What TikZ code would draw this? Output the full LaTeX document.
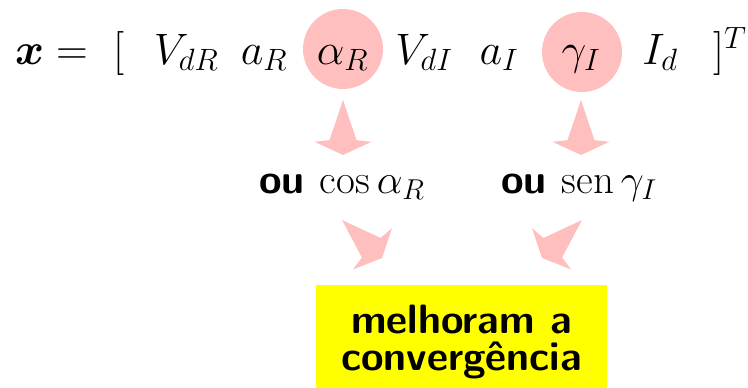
\RequirePackage{fix-cm}
\documentclass[tikz,border=0pt]{standalone}
\usepackage{amsmath,bm}
\usepackage{fontspec}
\usetikzlibrary{calc}
\definecolor{dartpink}{RGB}{255,191,191}
\definecolor{boxyellow}{RGB}{255,255,0}
\tikzset{
  toprow/.style={font=\fontsize{44}{50}\selectfont, inner sep=0pt, anchor=base},
  midrow/.style={font=\fontsize{41}{46}\selectfont, inner sep=0pt, anchor=base},
  hilite/.style={circle, fill=dartpink, minimum size=80pt, inner sep=0pt},
  dartshape/.style={fill=dartpink},
  resultbox/.style={fill=boxyellow, minimum width=291pt, minimum height=103pt, inner sep=0pt},
  resulttext/.style={inner sep=0pt, anchor=north, align=center,
    font=\fontsize{41}{37}\selectfont\sffamily\bfseries}
}
\newcommand{\dartarrow}[2]{%
  \fill[dartshape] (#1) -- ($(#1)!0.73!(#2)!13.5pt!90:(#2)$) -- ($(#1)!0.76!(#2)!28.5pt!90:(#2)$)
   -- (#2) -- ($(#1)!0.76!(#2)!28.5pt!-90:(#2)$) -- ($(#1)!0.73!(#2)!13.5pt!-90:(#2)$) -- cycle;}
\begin{document}
\begin{tikzpicture}[x=1pt,y=-1pt]
\useasboundingbox (0,0) rectangle (748,388);
% highlight circles
\node[hilite] (c1) at (343,49) {};
\node[hilite] (c2) at (582,52) {};
% top row
\node[toprow] (vx) at (29.5,64) {$\bm{x}$};
\node[toprow] (eq) at (72,64) {$=$};
\node[toprow] (lb) at (118.5,64) {$[$};
\node[toprow] (vdr) at (186,64) {$V_{dR}$};
\node[toprow] (ar) at (264,64) {$a_R$};
\node[toprow] (alr) at (342.5,64) {$\alpha_R$};
\node[toprow] (vdi) at (424,64) {$V_{dI}$};
\node[toprow] (ai) at (499,64) {$a_I$};
\node[toprow] (gi) at (581,64) {$\gamma_I$};
\node[toprow] (id) at (660,64) {$I_d$};
\node[toprow, anchor=base west] (rb) at (713,64) {$]^{T}$};
% middle row
\node[midrow] (o1) at (342,193) {\textsf{\bfseries ou}\hspace{15pt}$\cos\alpha_R$};
\node[midrow] (o2) at (579,193) {\textsf{\bfseries ou}\hspace{15pt}$\operatorname{sen}\gamma_I$};
% result box
\node[resultbox] (res) at (461.5,336.5) {};
\node[resulttext] (restext) at (461.5,304.5) {melhoram a\\convergência};
% darts
\coordinate (t1) at (343,100); \coordinate (h1) at (343,155);
\coordinate (t2) at (581,100); \coordinate (h2) at (581,155);
\coordinate (t3) at (342,220); \coordinate (h3) at (382,258);
\coordinate (t4) at (582,220); \coordinate (h4) at (542,258);
\dartarrow{t1}{h1}
\dartarrow{t2}{h2}
\dartarrow{t3}{h3}
\dartarrow{t4}{h4}
\end{tikzpicture}
\end{document}
